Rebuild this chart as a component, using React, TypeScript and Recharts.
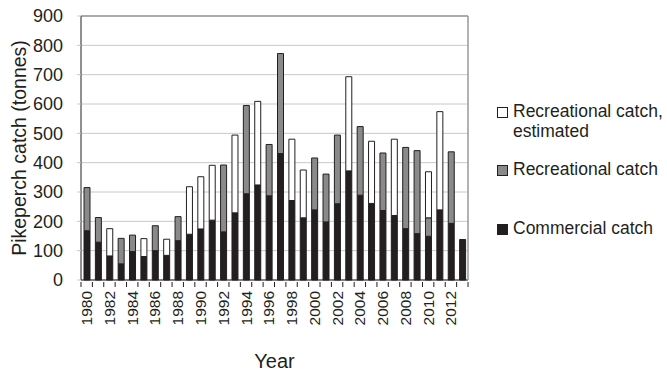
import { Bar, BarChart, CartesianGrid, ReferenceLine, XAxis, YAxis } from "recharts";

const years = [
  "1980", "1981", "1982", "1983", "1984", "1985", "1986", "1987", "1988", "1989",
  "1990", "1991", "1992", "1993", "1994", "1995", "1996", "1997", "1998", "1999",
  "2000", "2001", "2002", "2003", "2004", "2005", "2006", "2007", "2008", "2009",
  "2010", "2011", "2012", "2013",
];

const commercial = [
  168, 129, 82, 55, 97, 80, 100, 84, 134, 156,
  174, 204, 164, 229, 294, 324, 287, 431, 271, 212,
  239, 198, 260, 372, 289, 261, 237, 220, 175, 158,
  149, 239, 193, 138,
];

const recreational = [
  147, 84, null, 87, 56, null, 85, null, 82, null,
  null, null, 228, null, 301, null, 175, 341, null, null,
  177, 163, 234, null, 234, null, 196, null, 277, 283,
  63, null, 244, null,
];

const estimated = [
  null, null, 93, null, null, 61, null, 55, null, 162,
  178, 187, null, 265, null, 285, null, null, 209, 163,
  null, null, null, 321, null, 212, null, 260, null, null,
  157, 335, null, null,
];

const yTicks = [0, 100, 200, 300, 400, 500, 600, 700, 800, 900];

const series = [
  { key: "estimated", name: ["Recreational catch,", "estimated"], fill: "#ffffff" },
  { key: "recreational", name: ["Recreational catch"], fill: "#8a8a8a" },
  { key: "commercial", name: ["Commercial catch"], fill: "#231f20" },
];

const data = years.map((year, i) => ({
  year,
  commercial: commercial[i],
  recreational: recreational[i],
  estimated: estimated[i],
}));

const W = 667;
const H = 374;
const LEFT = 81;
const RIGHT = 199;
const TOP = 16;
const X_AXIS_H = 94;
const STEP = (W - LEFT - RIGHT) / years.length;
const FONT = "'Liberation Sans', Arial, Helvetica, sans-serif";
const INK = "#231f20";

function YearTick({ x, y, payload, index }: any) {
  const left = x - STEP / 2;
  const last = index === years.length - 1;
  return (
    <g>
      <line x1={left} y1={y} x2={left} y2={y + 5} stroke={INK} strokeWidth={1} />
      {last && <line x1={x + STEP / 2} y1={y} x2={x + STEP / 2} y2={y + 5} stroke={INK} strokeWidth={1} />}
      {index % 2 === 0 && (
        <text
          transform={`translate(${x},${y + 9}) rotate(-90)`}
          textAnchor="end"
          dominantBaseline="central"
          fontSize={15.5}
          fontFamily={FONT}
          fill={INK}
        >
          {payload.value}
        </text>
      )}
    </g>
  );
}

export default function App() {
  return (
    <div style={{ position: "absolute", left: 0, top: 0, width: W, height: H, background: "#fff" }}>
      <BarChart
        width={W}
        height={H}
        data={data}
        margin={{ top: TOP, right: RIGHT - 1, left: 0, bottom: 0 }}
      >
        <CartesianGrid vertical={false} stroke="#c8c8c8" strokeWidth={1} />
        <ReferenceLine y={900} stroke="#999" strokeWidth={1.5} />
        <XAxis
          dataKey="year"
          interval={0}
          height={X_AXIS_H}
          tickSize={0}
          tickLine={false}
          axisLine={{ stroke: INK, strokeWidth: 1 }}
          tick={<YearTick />}
          label={{ value: "Year", position: "insideBottom", offset: 6, fontSize: 20, fontFamily: FONT, fill: INK }}
        />
        <YAxis
          domain={[0, 900]}
          ticks={yTicks}
          width={LEFT}
          tickSize={4}
          tickMargin={14}
          axisLine={{ stroke: INK, strokeWidth: 1 }}
          tickLine={{ stroke: "#c8c8c8" }}
          tick={{ fontSize: 18, fontFamily: FONT, fill: INK }}
          label={{
            value: "Pikeperch catch (tonnes)",
            angle: -90,
            position: "insideLeft",
            offset: 19,
            style: { textAnchor: "middle" },
            fontSize: 19.5,
            fontFamily: FONT,
            fill: INK,
          }}
        />
        <YAxis
          yAxisId="frame"
          orientation="right"
          width={1}
          tick={false}
          tickLine={false}
          axisLine={{ stroke: "#999", strokeWidth: 1.5 }}
        />
        <Bar dataKey="commercial" stackId="a" fill={INK} stroke={INK} strokeWidth={1} barSize={6} isAnimationActive={false} />
        <Bar dataKey="recreational" stackId="a" fill="#8a8a8a" stroke={INK} strokeWidth={1} barSize={6} isAnimationActive={false} />
        <Bar dataKey="estimated" stackId="a" fill="#ffffff" stroke={INK} strokeWidth={1} barSize={6} isAnimationActive={false} />
      </BarChart>
      <div style={{ position: "absolute", left: 497, top: 101, fontFamily: FONT, fontSize: 17.5, color: INK, lineHeight: "20px" }}>
        {series.map((s, i) => (
          <div key={s.key} style={{ display: "flex", alignItems: "flex-start", marginBottom: i === 0 ? 18 : 39 }}>
            <span
              style={{
                width: 9,
                height: 9,
                marginTop: 6,
                marginRight: 5,
                background: s.fill,
                border: `1px solid ${INK}`,
                flex: "none",
              }}
            />
            <span>
              {s.name.map((n) => (
                <div key={n}>{n}</div>
              ))}
            </span>
          </div>
        ))}
      </div>
    </div>
  );
}
